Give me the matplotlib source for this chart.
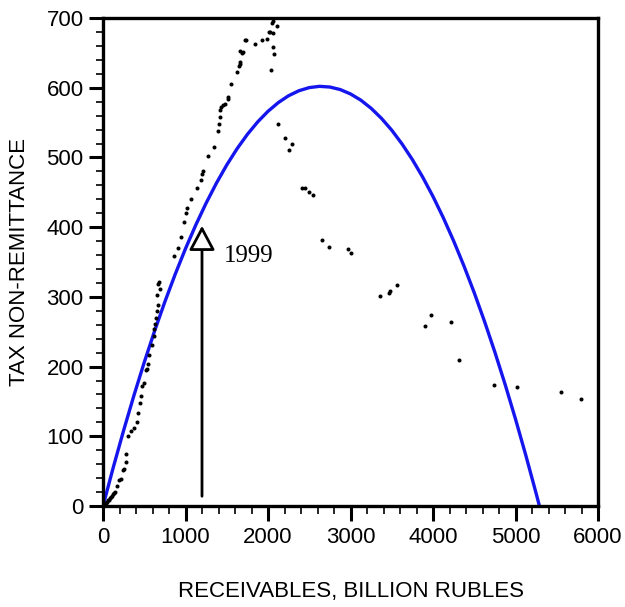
import matplotlib

matplotlib.use("Agg")
import matplotlib.pyplot as plt
from matplotlib.ticker import MultipleLocator

# Observed points (receivables, tax non-remittance)
obs_x = [8, 20, 32, 45, 58, 70, 82, 95, 108, 120, 133, 145,
         166, 194, 214, 247, 255, 279, 283, 307, 339, 380, 416, 428, 448, 465,
         477, 501, 525, 537, 549, 558, 594, 614, 622, 634, 642, 655, 667, 659,
         687, 671, 679,
         857, 909, 947, 986, 1010, 1022, 1061, 1135, 1184, 1196, 1212, 1267,
         1345, 1390, 1404, 1414, 1418, 1436, 1460, 1477, 1511, 1515, 1557, 1624,
         1652, 1659, 1660, 1665, 1687, 1697, 1717, 1728, 1847, 1925, 1992, 2010,
         2030, 2057, 2046, 2059, 2111, 2055, 2073, 2036,
         2117, 2206, 2287, 2255, 2415, 2450, 2500, 2545, 2651, 2743, 2970, 3002,
         3362, 3463, 3479, 3568, 3899, 3972, 4222, 4315, 4739, 5018, 5548, 5798]
obs_y = [1, 3, 4, 6, 8, 9, 11, 13, 15, 17, 18, 20,
         28, 37, 39, 51, 53, 63, 75, 100, 108, 112, 121, 133, 148, 158,
         172, 177, 195, 197, 203, 217, 231, 244, 254, 261, 269, 280, 289, 303,
         312, 318, 321,
         358, 370, 386, 408, 421, 428, 440, 456, 467, 476, 480, 502,
         515, 538, 548, 558, 568, 573, 575, 577, 584, 586, 605, 623,
         631, 634, 637, 653, 650, 651, 668, 669, 663, 668, 670, 680,
         680, 678, 693, 696, 688, 659, 648, 625,
         548, 528, 519, 511, 456, 456, 451, 446, 381, 371, 368, 363,
         301, 305, 309, 317, 258, 274, 264, 209, 174, 171, 164, 154]

# Fitted curve
fit_x = [0, 125, 250, 375, 500, 625, 750, 875, 1000, 1125, 1250, 1375, 1500,
         1625, 1750, 1875, 2000, 2125, 2250, 2375, 2500, 2625, 2750, 2875,
         3000, 3125, 3250, 3375, 3500, 3625, 3750, 3875, 4000, 4125, 4250,
         4375, 4500, 4625, 4750, 4875, 5000, 5125, 5250, 5290]
fit_y = [0, 55.6, 108.4, 158.6, 206.1, 250.9, 293.0, 332.4, 369.2, 403.2,
         434.5, 463.2, 489.2, 512.5, 533.1, 551.0, 566.2, 578.7, 588.6, 595.7,
         600.2, 602.0, 601.0, 597.4, 591.1, 582.2, 570.5, 556.1, 539.1, 519.3,
         496.9, 471.8, 444.0, 413.5, 380.3, 344.4, 305.9, 264.6, 220.7, 174.1,
         124.7, 72.7, 18.1, 0]

arrow_x = 1200
arrow_from = 14
arrow_to = 402
arrow_label = "1999"

plt.rcParams["font.family"] = ["Liberation Sans", "DejaVu Sans"]

fig = plt.figure(figsize=(6.25, 6.07), dpi=100)
ax = fig.add_axes([0.1648, 0.1664, 0.7920, 0.8039])

ax.plot(fit_x, fit_y, color="#1515EE", lw=2.4, solid_joinstyle="round",
        zorder=2)
ax.plot(obs_x, obs_y, "o", color="black", ms=2.9, mew=0, zorder=3)

ax.annotate(
    "", xy=(arrow_x, arrow_to), xytext=(arrow_x, arrow_from),
    arrowprops=dict(arrowstyle="-|>,head_length=0.75,head_width=0.4",
                    mutation_scale=20, fc="white", ec="black", lw=2,
                    shrinkA=0, shrinkB=0),
)
ax.text(1460, 359, arrow_label, family="Liberation Serif", fontsize=18,
        va="center", ha="left")

ax.set_xlim(0, 6000)
ax.set_ylim(0, 700)
ax.xaxis.set_major_locator(MultipleLocator(1000))
ax.xaxis.set_minor_locator(MultipleLocator(200))
ax.yaxis.set_major_locator(MultipleLocator(100))
ax.yaxis.set_minor_locator(MultipleLocator(20))
ax.tick_params(which="major", direction="out", length=10, width=2.2,
               labelsize=16, pad=4)
ax.tick_params(which="minor", direction="out", length=5, width=1.2)
ax.tick_params(axis="x", which="major", length=11)
ax.tick_params(axis="x", which="minor", length=6)

for sp in ax.spines.values():
    sp.set_linewidth(2.4)

ax.set_xlabel("RECEIVABLES, BILLION RUBLES", fontsize=16, labelpad=24)
ax.set_ylabel("TAX NON-REMITTANCE", fontsize=16, labelpad=12)

fig.savefig("out.png", dpi=100)
